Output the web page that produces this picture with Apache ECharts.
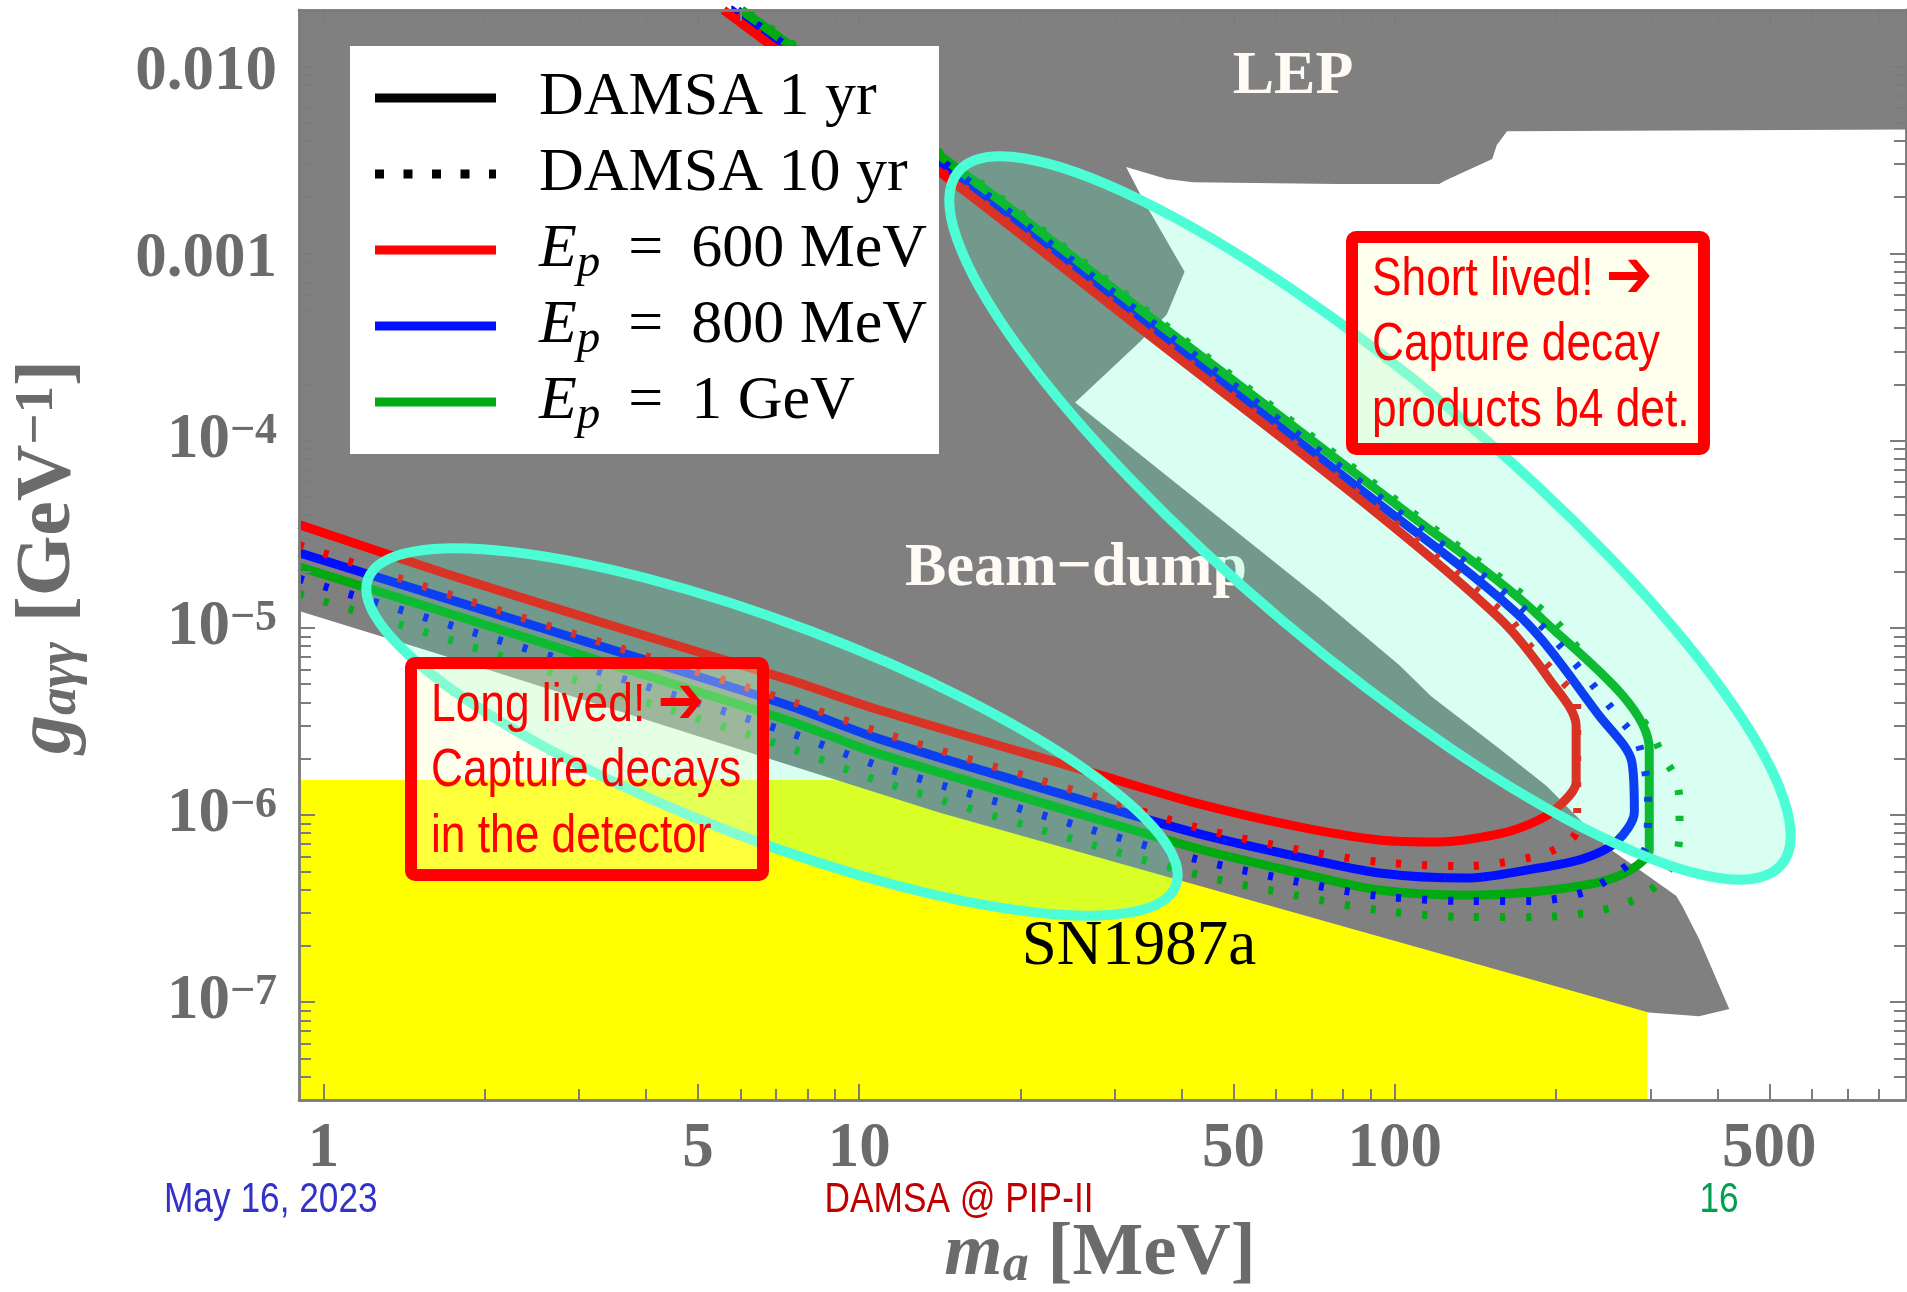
<!DOCTYPE html>
<html><head><meta charset="utf-8">
<script src="https://cdn.jsdelivr.net/npm/echarts@6/dist/echarts.min.js"></script>
<style>html,body{margin:0;padding:0;background:#fff}#c{width:1907px;height:1292px}</style>
</head><body><div id="c"></div>
<script>
// ---------------- DATA ----------------
const xRange = [0.9, 900];            // m_a [MeV]
const yRange = [3e-8, 0.02];          // g_agg [GeV^-1]
const xMajorTicks = [1, 5, 10, 50, 100, 500];
const xMinorTicks = [2, 3, 4, 6, 7, 8, 9, 20, 30, 40, 60, 70, 80, 90, 200, 300, 400, 600, 700, 800];
const yMajorTicks = [1e-7, 1e-6, 1e-5, 1e-4, 1e-3, 1e-2];
const yMinorTicks = [4e-8, 5e-8, 6e-8, 7e-8, 8e-8, 9e-8,
  2e-7, 3e-7, 4e-7, 5e-7, 6e-7, 7e-7, 8e-7, 9e-7,
  2e-6, 3e-6, 4e-6, 5e-6, 6e-6, 7e-6, 8e-6, 9e-6,
  2e-5, 3e-5, 4e-5, 5e-5, 6e-5, 7e-5, 8e-5, 9e-5,
  2e-4, 3e-4, 4e-4, 5e-4, 6e-4, 7e-4, 8e-4, 9e-4,
  2e-3, 3e-3, 4e-3, 5e-3, 6e-3, 7e-3, 8e-3, 9e-3];

// excluded regions (LEP + beam-dump, grey) and SN1987a (yellow)
const lepBeamDumpRegion = [[0.9, 0.02], [900, 0.02], [900, 4.6e-3], [162, 4.5e-3], [155, 3.8e-3], [152, 3.2e-3],
  [124, 2.45e-3], [121, 2.35e-3], [78, 2.35e-3], [42, 2.4e-3], [37.5, 2.5e-3], [31.5, 2.9e-3], [34, 1.9e-3],
  [40.5, 8.0e-4], [37.5, 4.7e-4], [33.5, 3.4e-4], [25.3, 1.6e-4], [72.6, 1.43e-5], [102, 6.3e-6], [117, 4.3e-6],
  [157, 2.25e-6], [192, 1.43e-6], [248, 6.8e-7], [335, 3.7e-7], [344, 3.26e-7], [370, 2.17e-7], [421, 9.2e-8],
  [370, 8.4e-8], [298, 8.8e-8], [14.1, 1.03e-6], [1.6, 7.4e-6], [0.9, 1.23e-5]];
const sn1987aRegion = [[0.9, 3e-8], [0.9, 1.54e-6], [9.0, 1.54e-6], [14.1, 1.1e-6], [296, 9.4e-8], [296, 3e-8]];

// DAMSA sensitivity contours
const ep600_1yr = [[0.9, 3.56e-5], [1.77, 1.87e-5], [3.61, 9.88e-6], [7.41, 5.27e-6], [10.9, 3.64e-6], [26.9, 1.70e-6],
  [43.1, 1.145e-6], [66.3, 8.63e-7], [93.5, 7.35e-7], [121, 7.17e-7], [156.6, 7.92e-7], [180.5, 9.06e-7], [200, 1.08e-6],
  [218, 1.5e-6], [218, 2.99e-6], [194, 5.34e-6], [157, 1.12e-5], [90.4, 4.33e-5], [33.9, 3.88e-4], [15.25, 2.31e-3], [5.58, 0.02]];
const ep600_10yr = [[0.9, 2.77e-5], [1.77, 1.465e-5], [3.61, 7.72e-6], [7.41, 4.07e-6], [10.9, 2.78e-6], [26.9, 1.28e-6],
  [43.1, 8.52e-7], [66.3, 6.5e-7], [93.5, 5.61e-7], [136, 5.33e-7], [180.5, 5.96e-7], [203, 6.74e-7], [218, 8.11e-7],
  [219, 1.12e-6], [219, 4.02e-6], [205, 5.21e-6], [176, 8.41e-6], [163.5, 1.12e-5], [92.7, 4.33e-5], [34.7, 3.88e-4],
  [15.5, 2.31e-3], [5.68, 0.02]];
const ep800_1yr = [[0.9, 2.52e-5], [1.77, 1.38e-5], [3.61, 7.35e-6], [7.41, 3.83e-6], [10.9, 2.55e-6], [26.9, 1.17e-6],
  [43.1, 7.92e-7], [66.3, 5.96e-7], [93.5, 4.9e-7], [136, 4.6e-7], [180.5, 5.14e-7], [224, 5.82e-7], [259, 7.17e-7],
  [280, 1.04e-6], [277, 1.92e-6], [241, 3.38e-6], [173, 1.12e-5], [96, 4.33e-5], [35.6, 3.88e-4], [15.9, 2.31e-3], [5.77, 0.02]];
const ep800_10yr = [[0.9, 1.83e-5], [1.77, 1.01e-5], [3.61, 5.34e-6], [7.41, 2.75e-6], [10.9, 1.83e-6], [26.9, 8.41e-7],
  [43.1, 5.75e-7], [66.3, 4.38e-7], [93.5, 3.69e-7], [136, 3.47e-7], [180.5, 3.47e-7], [228, 3.92e-7], [277, 5.61e-7],
  [295, 6.83e-7], [297, 1.2e-6], [286, 2.34e-6], [270, 2.99e-6], [182, 1.12e-5], [99.7, 4.33e-5], [36.8, 3.88e-4],
  [16.4, 2.31e-3], [5.93, 0.02]];
const ep1000_1yr = [[0.9, 2.12e-5], [1.77, 1.16e-5], [3.61, 6.11e-6], [7.41, 3.18e-6], [10.9, 2.12e-6], [26.9, 9.76e-7],
  [43.1, 6.58e-7], [66.3, 4.9e-7], [93.5, 3.97e-7], [136, 3.73e-7], [180.5, 3.88e-7], [241, 4.38e-7], [277, 5.14e-7],
  [298.5, 6.5e-7], [298.5, 2.25e-6], [188, 1.12e-5], [103, 4.33e-5], [37.6, 3.88e-4], [16.8, 2.31e-3], [6.03, 0.02]];
const ep1000_10yr = [[0.9, 1.52e-5], [1.77, 8.41e-6], [3.61, 4.38e-6], [7.41, 2.28e-6], [10.9, 1.52e-6], [26.9, 7.0e-7],
  [43.1, 4.78e-7], [66.3, 3.69e-7], [93.5, 3.1e-7], [136, 2.85e-7], [186, 2.85e-7], [234, 3.03e-7], [259, 3.26e-7],
  [290, 3.69e-7], [316, 4.55e-7], [335, 6.03e-7], [340, 8.11e-7], [340, 1.12e-6], [335, 1.56e-6], [316, 2.07e-6],
  [302, 2.71e-6], [282, 3.56e-6], [259, 4.72e-6], [228, 6.83e-6], [197, 1.12e-5], [105.5, 4.33e-5], [38.4, 3.88e-4],
  [17.1, 2.31e-3], [6.13, 0.02]];

const legendLabels = ['DAMSA 1 yr', 'DAMSA 10 yr', '600 MeV', '800 MeV', '1 GeV'];
const shortLivedText = ['Short lived! {a|\u2794}', 'Capture decay', 'products b4 det.'];
const longLivedText = ['Long lived! {a|\u2794}', 'Capture decays', 'in the detector'];
const footerTexts = ['May 16, 2023', 'DAMSA @ PIP-II', '16'];

// ---------------- STYLE ----------------
const serif = '"Liberation Serif", "Times New Roman", serif';
const sans = '"Liberation Sans", Arial, sans-serif';
const NARROW = 0.82;   // horizontal squeeze to emulate Arial Narrow
const axisGray = '#7c7c7c';
const labelGray = '#6b6b6b';
const regionGray = '#808080';
const RED = '#ff0000', BLUE = '#0010ff', GREEN = '#00aa10';
const gridPos = { left: 299, top: 10, right: 1, bottom: 192 };

function axisX(gridIndex, position, ticks, len, labels) {
  return {
    type: 'log', gridIndex, position, min: xRange[0], max: xRange[1], z: 9,
    axisLine: { show: true, onZero: false, lineStyle: { color: axisGray, width: 2.5 } },
    axisTick: { show: true, inside: true, length: len, customValues: ticks, lineStyle: { color: axisGray, width: 2 } },
    axisLabel: labels ? {
      show: true, customValues: xMajorTicks, margin: 18,
      formatter: v => String(Math.round(v)),
      fontFamily: serif, fontWeight: 'bold', fontSize: 63, color: labelGray
    } : { show: false },
    splitLine: { show: false }, minorTick: { show: false }, minorSplitLine: { show: false }
  };
}
function axisY(gridIndex, position, ticks, len, labels) {
  return {
    type: 'log', gridIndex, position, min: yRange[0], max: yRange[1], z: 9,
    axisLine: { show: true, onZero: false, lineStyle: { color: axisGray, width: 2.5 } },
    axisTick: { show: true, inside: true, length: len, customValues: ticks, lineStyle: { color: axisGray, width: 2 } },
    axisLabel: labels ? {
      show: true, customValues: yMajorTicks, margin: 22,
      formatter: v => {
        const e = Math.round(Math.log10(v));
        if (e === -2) return '{p|0.010}';
        if (e === -3) return '{p|0.001}';
        return '{b|10}{s|\u2212' + (-e) + '}';
      },
      rich: {
        p: { fontFamily: serif, fontWeight: 'bold', fontSize: 63, lineHeight: 63, padding: [12, 0, 0, 0], color: labelGray },
        b: { fontFamily: serif, fontWeight: 'bold', fontSize: 63, lineHeight: 63, color: labelGray, verticalAlign: 'bottom' },
        s: { fontFamily: serif, fontWeight: 'bold', fontSize: 44, lineHeight: 44, color: labelGray, verticalAlign: 'top', padding: [0, 0, 36, 0] }
      }
    } : { show: false },
    splitLine: { show: false }, minorTick: { show: false }, minorSplitLine: { show: false }
  };
}
function regionSeries(name, pts, color, z) {
  return {
    type: 'custom', name, xAxisIndex: 0, yAxisIndex: 0, z, silent: true, clip: true, data: pts,
    renderItem(params, api) {
      if (params.dataIndex !== 0) return null;
      return { type: 'polygon', shape: { points: pts.map(p => api.coord(p)) }, style: { fill: color } };
    }
  };
}
function lineSeries(name, data, color, dotted) {
  return {
    type: 'line', name, data, xAxisIndex: 0, yAxisIndex: 0, z: 4, silent: true,
    showSymbol: false, symbol: 'none', smooth: 0.3,
    lineStyle: { color, width: dotted ? 8 : 9, type: dotted ? [5, 21] : 'solid', cap: 'butt', join: 'round' }
  };
}

// ---------------- GRAPHICS (annotations) ----------------
const g = [];
// region names
g.push({ type: 'text', z: 3, x: 1293, y: 77, style: { text: 'LEP', font: 'bold 62px ' + serif, fill: '#fffbf4', align: 'center', verticalAlign: 'middle' } });
g.push({ type: 'text', z: 3, x: 1076, y: 569, style: { text: 'Beam\u2212dump', font: 'bold 62px ' + serif, fill: '#fffbf4', align: 'center', verticalAlign: 'middle' } });
g.push({ type: 'text', z: 3, x: 1139, y: 947, style: { text: 'SN1987a', font: '63px ' + serif, fill: '#000', align: 'center', verticalAlign: 'middle' } });
// highlight ellipses
const ellFill = 'rgba(64,255,192,0.2)', ellStroke = '#4dfdd6';
g.push({ type: 'ellipse', z: 5, x: 1370, y: 518, rotation: -40.1 * Math.PI / 180, shape: { cx: 0, cy: 0, rx: 538, ry: 135 }, style: { fill: ellFill, stroke: ellStroke, lineWidth: 10 } });
g.push({ type: 'ellipse', z: 5, x: 772, y: 732, rotation: -20.8 * Math.PI / 180, shape: { cx: 0, cy: 0, rx: 432, ry: 108 }, style: { fill: ellFill, stroke: ellStroke, lineWidth: 10 } });
// annotation boxes
function box(x, y, lines) {
  g.push({ type: 'rect', z: 6, shape: { x: x + 6, y: y + 6, width: 352, height: 212, r: 4 }, style: { fill: 'rgba(255,255,200,0.3)', stroke: RED, lineWidth: 12 } });
  g.push({ type: 'text', z: 7, x: x + 26, y: y + 16, scaleX: NARROW, scaleY: 1, style: {
    text: lines.join('\n'), font: '54px ' + sans, fill: RED, lineHeight: 65.5, align: 'left', verticalAlign: 'top',
    rich: { a: { fontFamily: '"DejaVu Sans", sans-serif', fontWeight: 'bold', fontSize: 68, lineHeight: 65.5, fill: RED, color: RED } }
  } });
}
box(1346, 231, shortLivedText);
box(405, 657, longLivedText);
// legend
g.push({ type: 'rect', z: 8, shape: { x: 350, y: 46, width: 589, height: 408 }, style: { fill: '#ffffff' } });
const eqSep = ' \u2009=\u2009 ';
const legendRows = [
  { color: '#000', dash: null, label: '{n|' + legendLabels[0] + '}' },
  { color: '#000', dash: [9, 19.5], label: '{n|' + legendLabels[1] + '}' },
  { color: RED, dash: null, label: '{i|E}{sub|p}{n|' + eqSep + legendLabels[2] + '}' },
  { color: BLUE, dash: null, label: '{i|E}{sub|p}{n|' + eqSep + legendLabels[3] + '}' },
  { color: GREEN, dash: null, label: '{i|E}{sub|p}{n|' + eqSep + legendLabels[4] + '}' }
];
legendRows.forEach((r, i) => {
  const y = 98 + i * 76;
  g.push({ type: 'line', z: 8, shape: { x1: 375, y1: y, x2: 496, y2: y }, style: { stroke: r.color, lineWidth: 9, lineDash: r.dash, lineCap: 'butt' } });
  g.push({ type: 'text', z: 8, x: 539, y, style: {
    text: r.label, align: 'left', verticalAlign: 'middle',
    rich: {
      n: { fontFamily: serif, fontSize: 62, lineHeight: 74, fill: '#000', color: '#000' },
      i: { fontFamily: serif, fontStyle: 'italic', fontSize: 62, lineHeight: 74, fill: '#000', color: '#000' },
      sub: { fontFamily: serif, fontStyle: 'italic', fontSize: 47, lineHeight: 47, verticalAlign: 'bottom', fill: '#000', color: '#000' }
    } } });
});
// axis titles
g.push({ type: 'text', z: 9, x: 1100, y: 1255, style: {
  text: '{m|m}{s|a}{n| [MeV]}', align: 'center', verticalAlign: 'middle',
  rich: {
    m: { fontFamily: serif, fontStyle: 'italic', fontWeight: 'bold', fontSize: 75, lineHeight: 75, fill: labelGray, color: labelGray },
    s: { fontFamily: serif, fontStyle: 'italic', fontWeight: 'bold', fontSize: 52, lineHeight: 52, padding: [40, 0, 0, 0], verticalAlign: 'bottom', fill: labelGray, color: labelGray },
    n: { fontFamily: serif, fontWeight: 'bold', fontSize: 75, lineHeight: 75, fill: labelGray, color: labelGray }
  } } });
g.push({ type: 'text', z: 9, x: 49, y: 557, rotation: Math.PI / 2, style: {
  text: '{g|g}{s|a\u03b3\u03b3}{n| [GeV}{p|\u22121}{n|]}', align: 'center', verticalAlign: 'middle',
  rich: {
    g: { fontFamily: serif, fontStyle: 'italic', fontWeight: 'bold', fontSize: 78, lineHeight: 78, fill: labelGray, color: labelGray },
    s: { fontFamily: serif, fontStyle: 'italic', fontWeight: 'bold', fontSize: 55, lineHeight: 55, padding: [40, 0, 0, 0], verticalAlign: 'bottom', fill: labelGray, color: labelGray },
    n: { fontFamily: serif, fontWeight: 'bold', fontSize: 78, lineHeight: 78, fill: labelGray, color: labelGray },
    p: { fontFamily: serif, fontWeight: 'bold', fontSize: 55, lineHeight: 55, padding: [0, 0, 42, 0], verticalAlign: 'top', fill: labelGray, color: labelGray }
  } } });
// footer
g.push({ type: 'text', z: 9, x: 164, y: 1200, scaleX: NARROW, style: { text: footerTexts[0], font: '43px ' + sans, fill: '#3232c8', align: 'left', verticalAlign: 'middle' } });
g.push({ type: 'text', z: 9, x: 959, y: 1200, scaleX: NARROW, style: { text: footerTexts[1], font: '43px ' + sans, fill: '#c00000', align: 'center', verticalAlign: 'middle' } });
g.push({ type: 'text', z: 9, x: 1719, y: 1200, scaleX: NARROW, style: { text: footerTexts[2], font: '43px ' + sans, fill: '#00a050', align: 'center', verticalAlign: 'middle' } });

// ---------------- OPTION ----------------
const option = {
  backgroundColor: '#ffffff',
  animation: false,
  grid: [Object.assign({}, gridPos), Object.assign({}, gridPos)],
  xAxis: [
    axisX(0, 'bottom', xMajorTicks, 16, true),
    axisX(0, 'top', xMajorTicks, 16, false),
    axisX(1, 'bottom', xMinorTicks, 11, false),
    axisX(1, 'top', xMinorTicks, 11, false)
  ],
  yAxis: [
    axisY(0, 'left', yMajorTicks, 16, true),
    axisY(0, 'right', yMajorTicks, 16, false),
    axisY(1, 'left', yMinorTicks, 12, false),
    axisY(1, 'right', yMinorTicks, 12, false)
  ],
  series: [
    regionSeries('SN1987a', sn1987aRegion, '#ffff00', 1),
    regionSeries('LEP + Beam-dump', lepBeamDumpRegion, regionGray, 2),
    lineSeries('Ep=800 MeV, 1 yr', ep800_1yr, BLUE, false),
    lineSeries('Ep=600 MeV, 1 yr', ep600_1yr, RED, false),
    lineSeries('Ep=1 GeV, 1 yr', ep1000_1yr, GREEN, false),
    lineSeries('Ep=600 MeV, 10 yr', ep600_10yr, RED, true),
    lineSeries('Ep=800 MeV, 10 yr', ep800_10yr, BLUE, true),
    lineSeries('Ep=1 GeV, 10 yr', ep1000_10yr, GREEN, true)
  ],
  graphic: g
};
const chart = echarts.init(document.getElementById('c'), null, { renderer: 'canvas', width: 1907, height: 1292 });
chart.setOption(option);
</script>
</body></html>
